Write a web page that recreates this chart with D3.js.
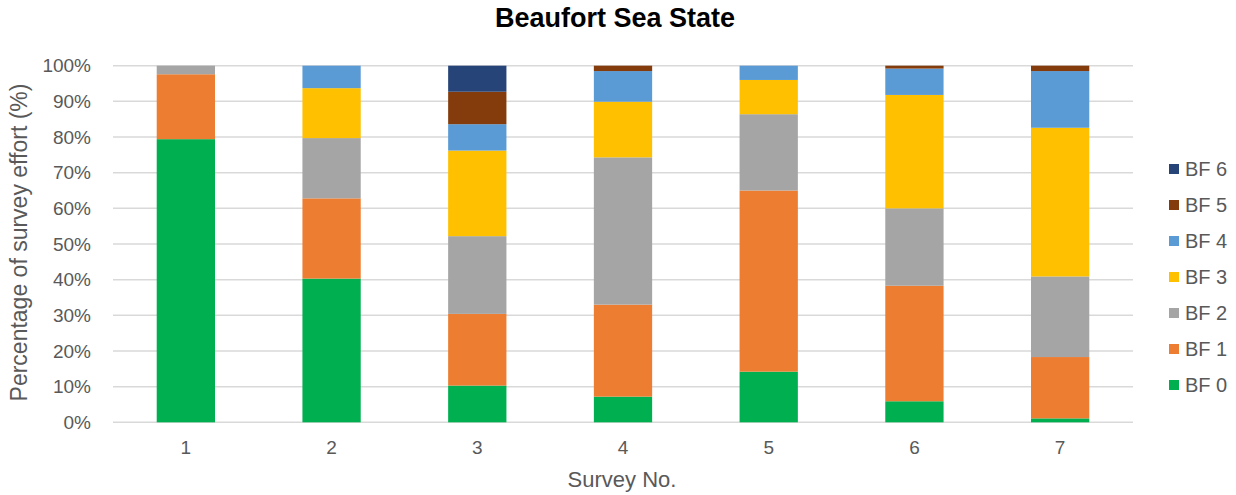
<!DOCTYPE html>
<html>
<head>
<meta charset="utf-8">
<script src="https://cdn.jsdelivr.net/npm/d3@7"></script>
<style>
  html, body { margin: 0; padding: 0; background: #fff; }
  svg { display: block; font-family: "Liberation Sans", Arial, sans-serif; }
</style>
</head>
<body>
<svg id="chart" width="1236" height="495"></svg>
<script>
// Survey numbers along the x axis
const surveys = ["1", "2", "3", "4", "5", "6", "7"];
// Beaufort force classes, bottom to top of each stack
const classes = ["BF 0", "BF 1", "BF 2", "BF 3", "BF 4", "BF 5", "BF 6"];
// Share of survey effort (%) per class, one value per survey
const bf0 = [79.4, 40.3, 10.3, 7.2, 14.2, 5.9, 1.1];
const bf1 = [18.2, 22.5, 20.1, 25.8, 50.8, 32.4, 17.2];
const bf2 = [2.4, 16.9, 21.8, 41.3, 21.4, 21.7, 22.6];
const bf3 = [0, 14.0, 24.0, 15.6, 9.6, 31.8, 41.7];
const bf4 = [0, 6.3, 7.4, 8.6, 4.0, 7.4, 15.9];
const bf5 = [0, 0, 9.1, 1.5, 0, 0.8, 1.5];
const bf6 = [0, 0, 7.3, 0, 0, 0, 0];
const yTicks = [0, 10, 20, 30, 40, 50, 60, 70, 80, 90, 100];

const seriesValues = [bf0, bf1, bf2, bf3, bf4, bf5, bf6];
const colors = ["#00B050", "#ED7D31", "#A5A5A5", "#FFC000", "#5B9BD5", "#843C0C", "#264478"];

const rows = surveys.map((s, i) => {
  const r = { survey: s };
  classes.forEach((c, k) => { r[c] = seriesValues[k][i]; });
  return r;
});

const svg = d3.select("#chart");
const margin = { left: 113, right: 103, top: 65.7, bottom: 72.7 };
const W = 1236, H = 495;

const x = d3.scaleBand()
  .domain(surveys)
  .range([margin.left, W - margin.right])
  .paddingInner(0.6)
  .paddingOuter(0.3);

const y = d3.scaleLinear()
  .domain([0, 100])
  .range([H - margin.bottom, margin.top]);

// Horizontal gridlines
svg.append("g")
  .selectAll("line")
  .data(yTicks)
  .join("line")
  .attr("x1", margin.left)
  .attr("x2", W - margin.right)
  .attr("y1", d => y(d))
  .attr("y2", d => y(d))
  .attr("stroke", "#D9D9D9")
  .attr("stroke-width", 1.5);

// Stacked bars
const stack = d3.stack().keys(classes)(rows);
svg.append("g")
  .selectAll("g")
  .data(stack)
  .join("g")
  .attr("fill", (d, i) => colors[i])
  .selectAll("rect")
  .data(d => d.filter(p => p[1] - p[0] > 0))
  .join("rect")
  .attr("x", d => x(d.data.survey))
  .attr("width", x.bandwidth())
  .attr("y", d => y(d[1]))
  .attr("height", d => y(d[0]) - y(d[1]));

// Y axis labels
const yAxis = d3.axisLeft(y)
  .tickValues(yTicks)
  .tickFormat(d => d + "%")
  .tickSize(0)
  .tickPadding(22);
svg.append("g")
  .attr("transform", `translate(${margin.left},0)`)
  .call(yAxis)
  .call(g => g.select(".domain").remove())
  .call(g => g.selectAll("text")
    .attr("fill", "#595959")
    .attr("font-size", 19)
    .attr("font-family", "Liberation Sans, Arial, sans-serif"));

// X axis labels
const xAxis = d3.axisBottom(x).tickSize(0).tickPadding(18);
svg.append("g")
  .attr("transform", `translate(0,${H - margin.bottom})`)
  .call(xAxis)
  .call(g => g.select(".domain").remove())
  .call(g => g.selectAll("text")
    .attr("fill", "#595959")
    .attr("font-size", 19)
    .attr("font-family", "Liberation Sans, Arial, sans-serif"));

// Title
svg.append("text")
  .attr("x", 615)
  .attr("y", 27)
  .attr("text-anchor", "middle")
  .attr("font-size", 27)
  .attr("font-weight", "bold")
  .attr("fill", "#000")
  .text("Beaufort Sea State");

// Axis titles
svg.append("text")
  .attr("x", 622)
  .attr("y", 487)
  .attr("text-anchor", "middle")
  .attr("font-size", 22)
  .attr("fill", "#595959")
  .text("Survey No.");

svg.append("text")
  .attr("transform", "translate(27,242.5) rotate(-90)")
  .attr("text-anchor", "middle")
  .attr("font-size", 23)
  .attr("fill", "#595959")
  .text("Percentage of survey effort (%)");

// Legend, top entry is the highest class
const legendItems = classes.map((c, i) => ({ name: c, color: colors[i] })).reverse();
const legend = svg.append("g")
  .selectAll("g")
  .data(legendItems)
  .join("g")
  .attr("transform", (d, i) => `translate(1169,${169 + i * 36})`);
legend.append("rect")
  .attr("x", 0)
  .attr("y", -5)
  .attr("width", 10)
  .attr("height", 10)
  .attr("fill", d => d.color);
legend.append("text")
  .attr("x", 16)
  .attr("y", 7)
  .attr("font-size", 20)
  .attr("fill", "#595959")
  .text(d => d.name);
</script>
</body>
</html>
